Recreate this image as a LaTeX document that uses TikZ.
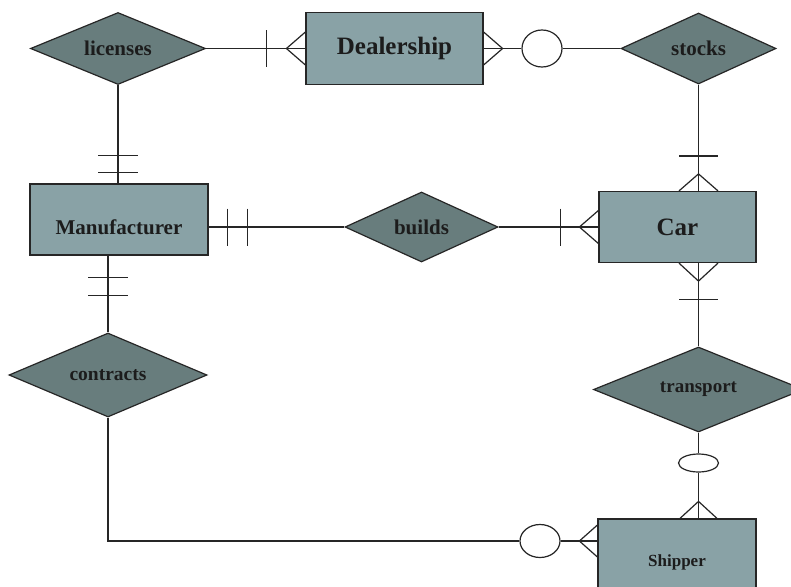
\documentclass[tikz,border=0pt]{standalone}
\usepackage{fontspec}
\setmainfont{Liberation Serif}
\usetikzlibrary{shapes.geometric,calc}
\definecolor{boxfill}{HTML}{89A2A6}
\definecolor{diafill}{HTML}{687D7D}
\definecolor{inkc}{HTML}{262626}
\definecolor{txtc}{HTML}{1C1C1C}
\newcommand{\fsz}[1]{\fontsize{#1}{#1}\selectfont\bfseries}
\begin{document}
\begin{tikzpicture}[x=1pt,y=-1pt,line width=1.2pt,
  entity/.style={draw=inkc,fill=boxfill,rectangle,inner sep=0pt,text=txtc},
  rel/.style={draw=inkc,fill=diafill,diamond,aspect=2.4,inner sep=0pt,text=txtc},
  conn/.style={draw=inkc},
  zero/.style={draw=inkc,fill=white,ellipse,inner sep=0pt}]
\useasboundingbox (0,0) rectangle (791,586);
\fill[white] (0,0) rectangle (791,586);
\clip (0,0) rectangle (791,586);

% entities
\node[entity,minimum width=177pt,minimum height=72pt,font=\fsz{25}] (dealer) at (394.5,48.5) {Dealership};
\node[entity,minimum width=178pt,minimum height=71pt,text height=30pt,text depth=0pt,font=\fsz{21}] (manu) at (119,219.5) {Manufacturer};
\node[entity,minimum width=157pt,minimum height=71pt,font=\fsz{25}] (car) at (677.5,227) {Car};
\node[entity,minimum width=158pt,minimum height=86pt,font=\fsz{17}] (ship) at (677,562) {Shipper};

% relationships
\node[rel,minimum width=175pt,minimum height=72pt,font=\fsz{21}] (lic) at (118,48.5) {licenses};
\node[rel,minimum width=155pt,minimum height=71pt,font=\fsz{21}] (stocks) at (698.5,48.5) {stocks};
\node[rel,minimum width=153pt,minimum height=70pt,font=\fsz{21}] (builds) at (421.5,227) {builds};
\node[rel,minimum width=198pt,minimum height=84pt,font=\fsz{19.5}] (contr) at (108,375) {contracts};
\node[rel,minimum width=210pt,minimum height=85pt,font=\fsz{19}] (trans) at (698.5,389.5) {transport};

% optionality circles
\node[zero,minimum width=40pt,minimum height=37pt] (o1) at (542,48.5) {};
\node[zero,minimum width=40pt,minimum height=18pt] (o2) at (698.5,463) {};
\node[zero,minimum width=40pt,minimum height=33pt] (o3) at (540,541) {};

% licenses -- Dealership
\draw[conn] (lic.east) -- (dealer.west);
\draw[conn] ($(dealer.west)+(-39,-18)$) -- ($(dealer.west)+(-39,18)$);
\draw[conn] ($(dealer.west)+(0,-16.5)$) -- ($(dealer.west)+(-19,0)$) -- ($(dealer.west)+(0,16.5)$);

% Dealership -- stocks
\draw[conn] (dealer.east) -- (o1.west);
\draw[conn] (o1.east) -- (stocks.west);
\draw[conn] ($(dealer.east)+(0,-16.5)$) -- ($(dealer.east)+(19,0)$) -- ($(dealer.east)+(0,16.5)$);

% stocks -- Car
\coordinate (cn) at (stocks.south |- car.north);
\draw[conn] (stocks.south) -- (cn);
\draw[conn] ($(cn)+(-19.5,-35)$) -- ($(cn)+(19.5,-35)$);
\draw[conn] ($(cn)+(-19.5,0)$) -- ($(cn)+(0,-17)$) -- ($(cn)+(19.5,0)$);

% Car -- transport
\coordinate (cs) at (trans.north |- car.south);
\draw[conn] (cs) -- (trans.north);
\draw[conn] ($(cs)+(-19.5,0)$) -- ($(cs)+(0,18)$) -- ($(cs)+(19.5,0)$);
\draw[conn] ($(cs)+(-19.5,36)$) -- ($(cs)+(19.5,36)$);

% transport -- Shipper
\coordinate (sn) at (o2.south |- ship.north);
\draw[conn] (trans.south) -- (o2.north);
\draw[conn] (o2.south) -- (sn);
\draw[conn] ($(sn)+(-18.5,0)$) -- ($(sn)+(0,-17)$) -- ($(sn)+(18.5,0)$);

% Manufacturer -- builds -- Car
\coordinate (mb) at (builds.west -| manu.east);
\draw[conn] (mb) -- (builds.west);
\draw[conn] ($(mb)+(19,-18.5)$) -- ($(mb)+(19,18.5)$);
\draw[conn] ($(mb)+(39,-18.5)$) -- ($(mb)+(39,18.5)$);
\coordinate (cw) at (builds.east -| car.west);
\draw[conn] (builds.east) -- (cw);
\draw[conn] ($(cw)+(-38,-18.5)$) -- ($(cw)+(-38,18.5)$);
\draw[conn] ($(cw)+(0,-16.5)$) -- ($(cw)+(-19,0)$) -- ($(cw)+(0,16.5)$);

% licenses -- Manufacturer
\coordinate (ln) at (lic.south |- manu.north);
\draw[conn] (lic.south) -- (ln);
\draw[conn] ($(ln)+(-20,-28)$) -- ($(ln)+(20,-28)$);
\draw[conn] ($(ln)+(-20,-11)$) -- ($(ln)+(20,-11)$);

% Manufacturer -- contracts
\coordinate (mc) at (contr.north |- manu.south);
\draw[conn] (mc) -- (contr.north);
\draw[conn] ($(mc)+(-20,22)$) -- ($(mc)+(20,22)$);
\draw[conn] ($(mc)+(-20,40)$) -- ($(mc)+(20,40)$);

% contracts -- Shipper
\coordinate (sw) at (o3.east -| ship.west);
\draw[conn] (contr.south) -- (contr.south |- o3.west) -- (o3.west);
\draw[conn] (o3.east) -- (sw);
\draw[conn] ($(sw)+(0,-16)$) -- ($(sw)+(-18,0)$) -- ($(sw)+(0,16)$);
\end{tikzpicture}
\end{document}
